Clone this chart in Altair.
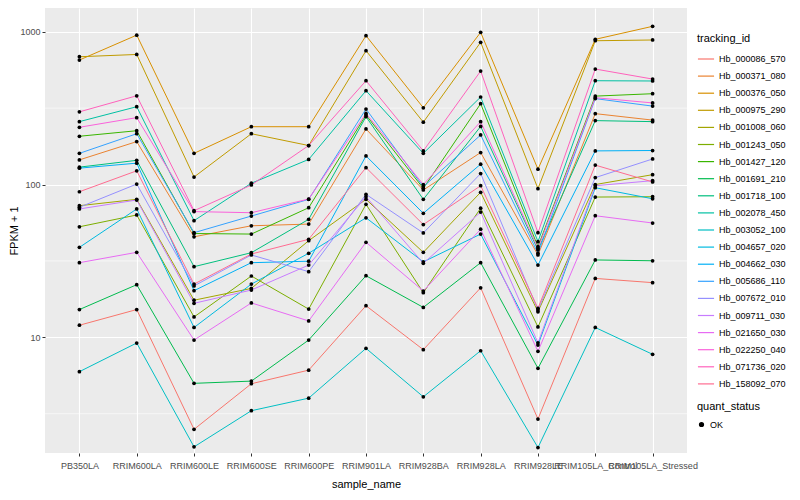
import altair as alt
import pandas as pd

samples = ["PB350LA", "RRIM600LA", "RRIM600LE", "RRIM600SE", "RRIM600PE",
           "RRIM901LA", "RRIM928BA", "RRIM928LA", "RRIM928LE",
           "RRIM105LA_Control", "RRIM105LA_Stressed"]

tracking_ids = ["Hb_000086_570", "Hb_000371_080", "Hb_000376_050", "Hb_000975_290",
                "Hb_001008_060", "Hb_001243_050", "Hb_001427_120", "Hb_001691_210",
                "Hb_001718_100", "Hb_002078_450", "Hb_003052_100", "Hb_004657_020",
                "Hb_004662_030", "Hb_005686_110", "Hb_007672_010", "Hb_009711_030",
                "Hb_021650_030", "Hb_022250_040", "Hb_071736_020", "Hb_158092_070"]

hb_000086_570 = [12.0, 15.2, 2.5, 4.97, 6.1, 16.1, 8.3, 21.1, 2.92, 24.3, 22.8]
hb_000371_080 = [145, 191, 45.5, 53.7, 55.1, 231, 92.1, 162, 34.6, 291, 264]
hb_000376_050 = [653, 950, 160, 239, 239, 942, 318, 991, 126, 892, 1085]
hb_000975_290 = [686, 710, 112, 215, 180, 751, 256, 853, 94, 873, 883]
hb_001008_060 = [72.7, 80, 17.5, 20.9, 42.9, 80, 36, 89, 14.7, 100, 116]
hb_001243_050 = [52.9, 63.2, 13.6, 25.2, 15.3, 74.2, 19.6, 70, 11.7, 82.8, 83.2]
hb_001427_120 = [207, 225, 47.8, 47.4, 70.5, 285, 94.4, 338, 39.2, 379, 393]
hb_001691_210 = [15.2, 22.1, 5.0, 5.17, 9.6, 25.3, 15.7, 30.8, 6.27, 32.1, 31.7]
hb_001718_100 = [130, 144, 29, 35.8, 59.2, 278, 80, 240, 37.3, 262, 258]
hb_002078_450 = [258, 323, 58, 102, 146, 411, 160, 374, 42.3, 478, 476]
hb_003052_100 = [5.96, 9.18, 1.92, 3.31, 4.0, 8.47, 4.08, 8.17, 1.90, 11.6, 7.74]
hb_004657_020 = [38.8, 69.2, 11.6, 22.3, 35.5, 60.6, 31.2, 47.4, 8.9, 95.3, 80.7]
hb_004662_030 = [128, 138, 20.2, 30.8, 31.5, 154, 64.8, 136, 29.7, 166, 167]
hb_005686_110 = [160, 215, 48.4, 62.2, 80, 312, 96.7, 211, 35.5, 365, 326]
hb_007672_010 = [71, 100.7, 21.7, 34.6, 26.9, 86.3, 48.2, 118, 15.1, 111, 147]
hb_009711_030 = [69.2, 79.2, 16.7, 20.4, 29.7, 83.2, 30.5, 66, 9.2, 98.2, 106]
hb_021650_030 = [30.8, 36, 9.6, 16.8, 12.8, 41.9, 20.1, 51, 8.1, 62.5, 56]
hb_022250_040 = [237, 274, 66.5, 65.4, 80.4, 292, 100, 258, 38.2, 370, 342]
hb_071736_020 = [299, 381, 67.4, 99.3, 180, 478, 166, 553, 48.4, 570, 490]
hb_158092_070 = [89.7, 123, 22.3, 35.1, 43.8, 129, 54.7, 98.2, 15.5, 134, 104]

series = [hb_000086_570, hb_000371_080, hb_000376_050, hb_000975_290,
          hb_001008_060, hb_001243_050, hb_001427_120, hb_001691_210,
          hb_001718_100, hb_002078_450, hb_003052_100, hb_004657_020,
          hb_004662_030, hb_005686_110, hb_007672_010, hb_009711_030,
          hb_021650_030, hb_022250_040, hb_071736_020, hb_158092_070]

palette = ["#F8766D", "#EA8331", "#D89000", "#C09B00", "#A3A500", "#7CAE00",
           "#39B600", "#00BB4E", "#00BF7D", "#00C1A3", "#00BFC4", "#00BAE0",
           "#00B0F6", "#35A2FF", "#9590FF", "#C77CFF", "#E76BF3", "#FA62DB",
           "#FF62BC", "#FF6C91"]

major_breaks = [10, 100, 1000]
minor_breaks = [3.1623, 31.623, 316.23]

rows = []
for tid, vals in zip(tracking_ids, series):
    for s, v in zip(samples, vals):
        rows.append({"tracking_id": tid, "sample_name": s, "fpkm": v, "quant_status": "OK"})
df = pd.DataFrame(rows)
minor_df = pd.DataFrame({"fpkm": minor_breaks})

FONT = "Liberation Sans"

y_scale = alt.Scale(type="log", domain=[1.75, 1430], nice=False)
y_axis = alt.Axis(values=major_breaks, format="d", title="FPKM + 1",
                  labelPadding=2, titlePadding=0)
x_enc = alt.X("sample_name:N", sort=samples,
              scale=alt.Scale(padding=0.6),
              axis=alt.Axis(title="sample_name", labelAngle=0, labelOverlap=False,
                            grid=True, labelPadding=5, titlePadding=8))
y_enc = alt.Y("fpkm:Q", scale=y_scale, axis=y_axis)

minor = alt.Chart(minor_df).mark_rule(color="white", strokeWidth=0.6).encode(
    y=alt.Y("fpkm:Q", scale=y_scale, axis=y_axis)
)

lines = alt.Chart(df).mark_line(strokeWidth=1).encode(
    x=x_enc, y=y_enc,
    color=alt.Color("tracking_id:N", sort=tracking_ids,
                    scale=alt.Scale(domain=tracking_ids, range=palette),
                    legend=alt.Legend(title="tracking_id", orient="none",
                                      legendX=652, legendY=25,
                                      symbolType="stroke", symbolSize=260,
                                      symbolStrokeWidth=1.2, rowPadding=3.1,
                                      labelFontSize=9, titleFontSize=11,
                                      labelColor="black", titleColor="black",
                                      titleFontWeight="normal", titlePadding=6,
                                      labelFont=FONT, titleFont=FONT)),
    detail="tracking_id:N"
)

points = alt.Chart(df).mark_point(filled=True, size=14, opacity=1).encode(
    x=alt.X("sample_name:N", sort=samples),
    y=alt.Y("fpkm:Q", scale=y_scale, axis=y_axis),
    fill=alt.Fill("quant_status:N",
                  scale=alt.Scale(domain=["OK"], range=["black"]),
                  legend=alt.Legend(title="quant_status", orient="none",
                                    legendX=652, legendY=393,
                                    symbolType="circle", symbolSize=14,
                                    labelFontSize=9, titleFontSize=11,
                                    labelColor="black", titleColor="black",
                                    titleFontWeight="normal", titlePadding=8,
                                    labelFont=FONT, titleFont=FONT)),
    stroke=alt.value("black"),
    strokeWidth=alt.value(0)
)

chart = alt.layer(minor, lines, points).properties(
    width=642, height=445,
    autosize=alt.AutoSizeParams(type="none"),
    padding={"left": 37, "top": 0, "right": 105, "bottom": 39},
).configure_view(
    fill="#EBEBEB", strokeWidth=0
).configure_axis(
    gridColor="white", gridWidth=1.1, domain=False,
    tickColor="#333333", tickSize=3, tickWidth=1,
    labelColor="#4D4D4D", labelFontSize=9, labelFont=FONT,
    titleFont=FONT, titleFontSize=11, titleFontWeight="normal", titleColor="black"
)

chart.save("out.html", embed_options={"renderer": "svg", "actions": False})
